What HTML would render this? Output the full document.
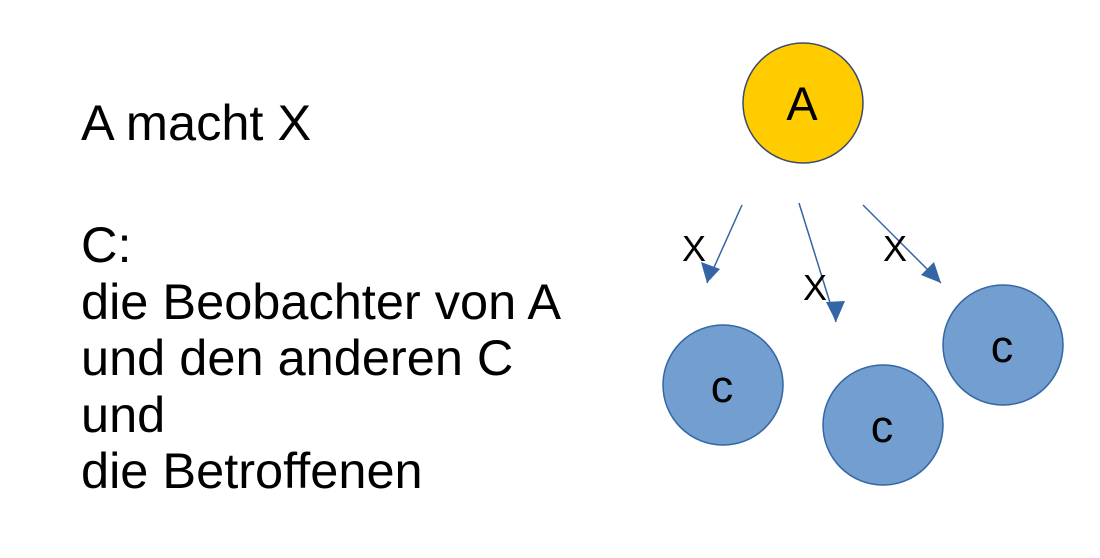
<!DOCTYPE html>
<html><head><style>
body{margin:0;width:1100px;height:558px;background:#fff;overflow:hidden;position:relative;font-family:"Liberation Sans",sans-serif;}
.t{position:absolute;left:81px;font-size:50.5px;color:#000;line-height:56.5px;white-space:pre;}
</style></head><body>
<div class="t" style="top:95px">A macht X</div>
<div class="t" style="top:217px">C:
die Beobachter von A
und den anderen C
und
die Betroffenen</div>
<svg width="1100" height="558" style="position:absolute;left:0;top:0">
<g stroke="#3465a4" stroke-width="1.5" fill="none">
<line x1="742" y1="205" x2="707" y2="283"/>
<line x1="799" y1="203" x2="836" y2="322"/>
<line x1="863" y1="205" x2="941" y2="283"/>
</g>
<g fill="#3465a4">
<polygon points="707,283 701,262 720,269"/>
<polygon points="836,322 826,302 845,301"/>
<polygon points="941,283 921,275 934,262"/>
</g>
<circle cx="803" cy="103" r="60" fill="#ffcc00" stroke="#3e4a6e" stroke-width="1.5"/>
<circle cx="723" cy="385" r="60" fill="#729fcf" stroke="#3465a4" stroke-width="1.5"/>
<circle cx="883" cy="425" r="60" fill="#729fcf" stroke="#3465a4" stroke-width="1.5"/>
<circle cx="1003" cy="345" r="60" fill="#729fcf" stroke="#3465a4" stroke-width="1.5"/>
<g font-family="Liberation Sans,sans-serif" fill="#000" text-anchor="middle">
<text x="802" y="120" font-size="47">A</text>
<text x="722" y="402" font-size="45">c</text>
<text x="882" y="442" font-size="45">c</text>
<text x="1002" y="362" font-size="45">c</text>
<text x="694" y="261" font-size="36">X</text>
<text x="815" y="300" font-size="36">X</text>
<text x="895" y="261" font-size="36">X</text>
</g>
</svg>
</body></html>
